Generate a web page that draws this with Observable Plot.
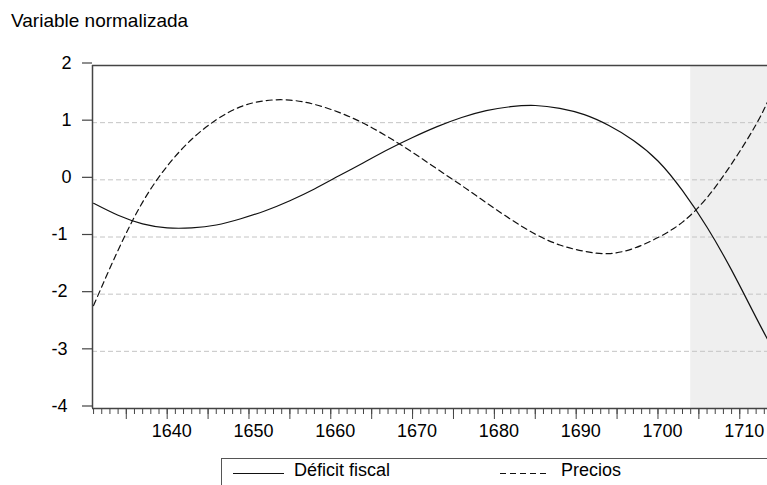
<!DOCTYPE html>
<html>
<head>
<meta charset="utf-8">
<script src="https://cdn.jsdelivr.net/npm/d3@7"></script>
<script src="https://cdn.jsdelivr.net/npm/@observablehq/plot@0.6"></script>
<style>
  html, body { margin: 0; padding: 0; background: #fff; overflow: hidden; }
  #page { position: relative; width: 767px; height: 485px; overflow: hidden; font-family: "Liberation Sans", Arial, sans-serif; color: #000; }
  #title { position: absolute; left: 11px; top: 10.7px; font-size: 19px; line-height: 19px; white-space: nowrap; }
  #chart { position: absolute; left: 0; top: 40px; }
  #chart svg { display: block; }
  #legend { position: absolute; left: 221px; top: 458px; width: 700px; height: 60px; border: 1px solid #555; box-sizing: border-box; }
  .lg-text { position: absolute; top: 2px; font-size: 18px; line-height: 18px; white-space: nowrap; }
  .lg-svg { position: absolute; left: 0; top: 0; }
</style>
</head>
<body>
<div id="page">
  <div id="title">Variable normalizada</div>
  <div id="chart"></div>
  <div id="legend"></div>
</div>
<script>
// ---- Data ----
const years = [1631, 1634, 1637, 1640, 1643, 1646, 1649, 1652, 1655, 1658,
               1661, 1664, 1667, 1670, 1673, 1676, 1679, 1682, 1685, 1688,
               1691, 1694, 1697, 1700, 1703, 1706, 1709, 1712, 1714];
const deficitFiscal = [-0.41, -0.62, -0.77, -0.84, -0.84, -0.79, -0.68, -0.54, -0.365, -0.16,
                       0.07, 0.30, 0.53, 0.74, 0.93, 1.09, 1.21, 1.28, 1.30, 1.25,
                       1.14, 0.95, 0.69, 0.33, -0.19, -0.83, -1.58, -2.41, -2.95];
const precios = [-2.20, -1.23, -0.39, 0.24, 0.71, 1.05, 1.28, 1.385, 1.395, 1.32,
                 1.18, 0.99, 0.75, 0.48, 0.19, -0.10, -0.40, -0.69, -0.95, -1.14,
                 -1.25, -1.29, -1.20, -1.01, -0.74, -0.31, 0.28, 0.97, 1.55];
const seriesNames = ["Déficit fiscal", "Precios"];
const shadedPeriods = [{start: 1704, end: 1714}];
const xDomain = [1630.87, 1713.39];
const yDomain = [-4, 2];
const yTicksPositive = [0, 1, 2];
const yTicksNegative = [-1, -2, -3, -4];
const gridValues = [-3, -2, -1, 0, 1];
const xLabelYears = [1640, 1650, 1660, 1670, 1680, 1690, 1700, 1710];
const xMajorYears = [1635, 1640, 1645, 1650, 1655, 1660, 1665, 1670, 1675, 1680, 1685, 1690, 1695, 1700, 1705, 1710];
const xMinorYears = d3.range(1631, 1714);

const deficitRows = years.map((year, i) => ({year, value: deficitFiscal[i]}));
const preciosRows = years.map((year, i) => ({year, value: precios[i]}));

const frameColor = "#444";
const fmt = d => String(d);

const chart = Plot.plot({
  width: 767,
  height: 410,
  marginLeft: 92,
  marginRight: 0,
  marginTop: 25,
  marginBottom: 42,
  x: {domain: xDomain, axis: null, label: null},
  y: {domain: yDomain, axis: null, label: null},
  style: {fontFamily: "'Liberation Sans', Arial, sans-serif", fontSize: "18px", color: "#000", background: "transparent", overflow: "visible"},
  marks: [
    Plot.rect(shadedPeriods, {x1: "start", x2: "end", fill: "#efefef", clip: true}),
    Plot.gridY(gridValues, {stroke: "#c4c4c4", strokeOpacity: 1, strokeWidth: 1, strokeDasharray: "5,3"}),
    Plot.line(deficitRows, {x: "year", y: "value", curve: "natural", stroke: "#111", strokeWidth: 1.2, clip: true}),
    Plot.line(preciosRows, {x: "year", y: "value", curve: "natural", stroke: "#111", strokeWidth: 1.2, strokeDasharray: "6,4", clip: true}),
    Plot.ruleY([yDomain[1]], {stroke: frameColor, strokeWidth: 1.5}),
    Plot.ruleY([yDomain[0]], {stroke: frameColor, strokeWidth: 1.5}),
    Plot.ruleX([xDomain[0]], {stroke: frameColor, strokeWidth: 1.5}),
    Plot.axisY(yTicksPositive, {anchor: "left", tickSize: 10, tickPadding: 11, tickFormat: fmt, dy: -2.5, stroke: frameColor, fill: "#000", strokeWidth: 1.2, label: null}),
    Plot.axisY(yTicksNegative, {anchor: "left", tickSize: 10, tickPadding: 15, tickFormat: fmt, dy: -2.5, stroke: frameColor, fill: "#000", strokeWidth: 1.2, label: null}),
    Plot.axisX(xMinorYears, {anchor: "bottom", tickSize: 6, fill: "none", stroke: frameColor, strokeWidth: 1, label: null}),
    Plot.axisX(xMajorYears, {anchor: "bottom", tickSize: 11, fill: "none", stroke: frameColor, strokeWidth: 1, label: null}),
    Plot.axisX(xLabelYears, {anchor: "bottom", tickSize: 0, tickPadding: 16, dx: 4.5, tickFormat: fmt, fill: "#000", label: null})
  ]
});
document.getElementById("chart").appendChild(chart);

// ---- Legend ----
const legend = document.getElementById("legend");
const legendItems = [
  {name: seriesNames[0], dash: null, x0: 11, x1: 62, tx: 72},
  {name: seriesNames[1], dash: "6,4", x0: 278, x1: 327, tx: 339}
];
const svgNS = "http://www.w3.org/2000/svg";
const lsvg = document.createElementNS(svgNS, "svg");
lsvg.setAttribute("class", "lg-svg");
lsvg.setAttribute("width", 700);
lsvg.setAttribute("height", 40);
legendItems.forEach(item => {
  const ln = document.createElementNS(svgNS, "line");
  ln.setAttribute("x1", item.x0); ln.setAttribute("x2", item.x1);
  ln.setAttribute("y1", 14.5); ln.setAttribute("y2", 14.5);
  ln.setAttribute("stroke", "#111"); ln.setAttribute("stroke-width", 1.2);
  if (item.dash) ln.setAttribute("stroke-dasharray", item.dash);
  lsvg.appendChild(ln);
  const t = document.createElement("div");
  t.className = "lg-text";
  t.style.left = item.tx + "px";
  t.textContent = item.name;
  legend.appendChild(t);
});
legend.appendChild(lsvg);
</script>
</body>
</html>
